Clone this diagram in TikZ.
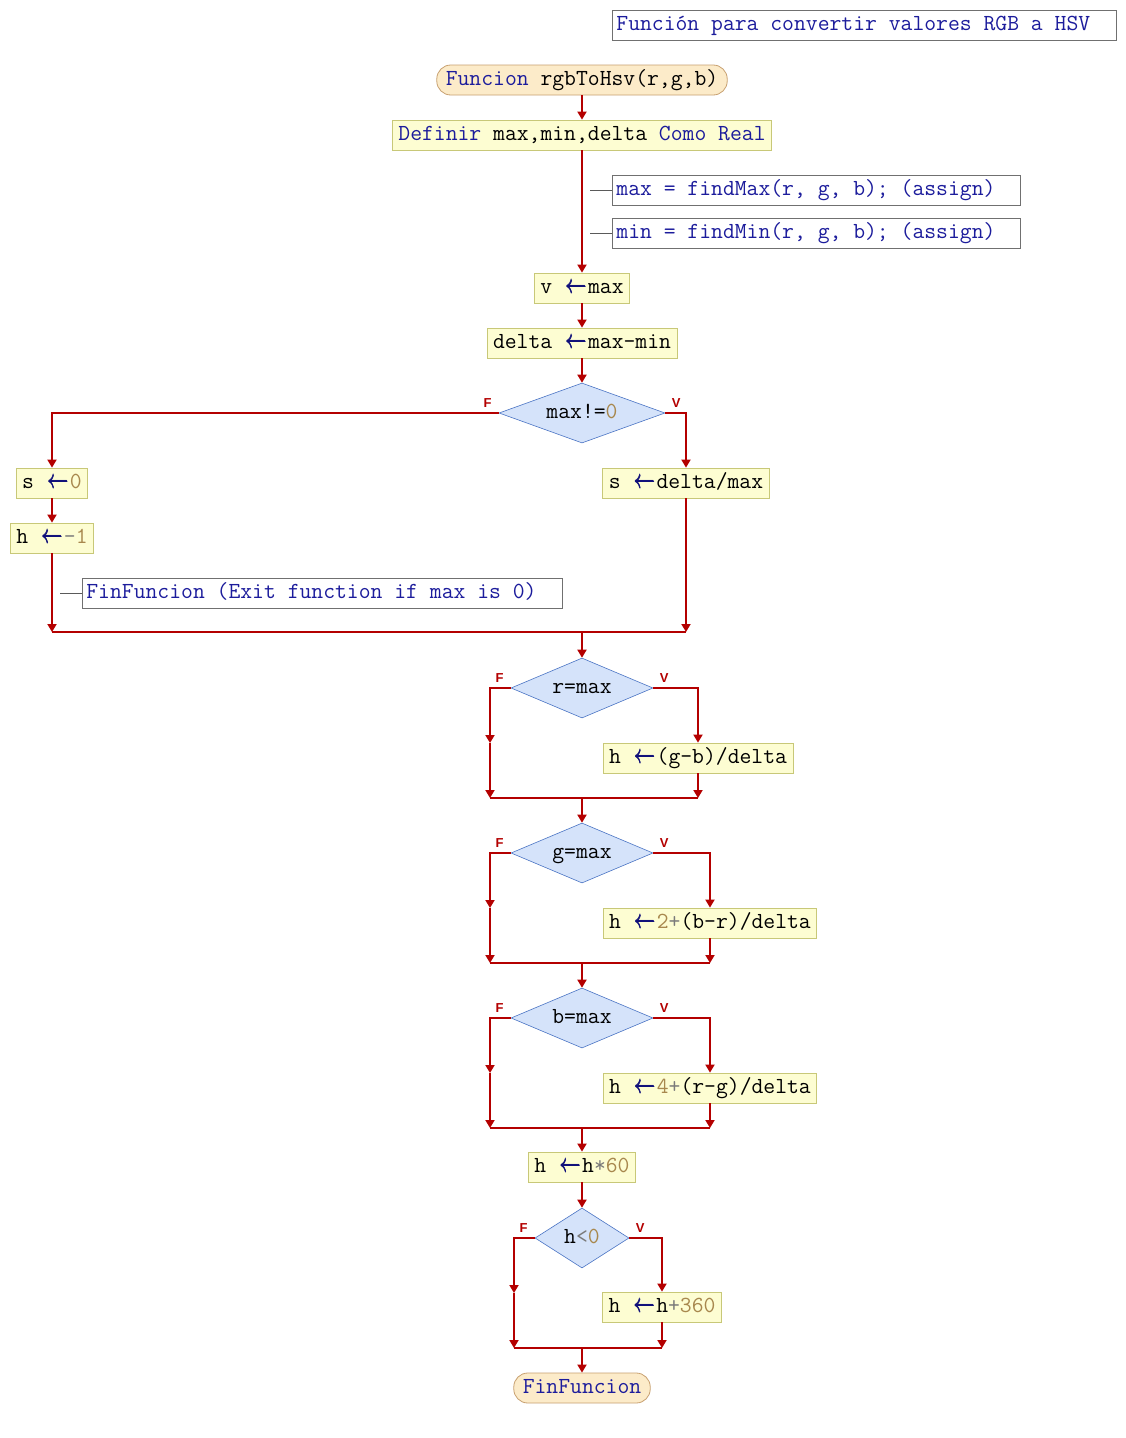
\documentclass[tikz,border=0pt]{standalone}
\usepackage{fontspec}
\usepackage{graphicx}
\newfontfamily\lblfnt{Liberation Sans}
\usetikzlibrary{shapes.geometric,arrows.meta}

\definecolor{kwblue}{HTML}{1C1C9C}
\definecolor{asgblue}{HTML}{10107A}
\definecolor{numcol}{HTML}{A8884E}
\definecolor{opcol}{HTML}{7A7A7A}
\definecolor{boxbg}{HTML}{FDFDD2}
\definecolor{boxbd}{HTML}{C8C878}
\definecolor{termbg}{HTML}{FCEBC9}
\definecolor{termbd}{HTML}{C8A070}
\definecolor{condbg}{HTML}{D5E3FA}
\definecolor{condbd}{HTML}{4A74C4}
\definecolor{flowred}{HTML}{B40000}
\definecolor{notebd}{HTML}{707070}

% monospaced code font, 12pt per character
\newcommand\code{\ttfamily\fontsize{23}{26}\selectfont}
\newcommand\kw[1]{\textcolor{kwblue}{#1}}
\newcommand\nm[1]{\textcolor{numcol}{#1}}
\newcommand\op[1]{\textcolor{opcol}{#1}}
% assignment arrow, two characters wide, struck twice for a heavier stroke
\newcommand\asgglyph{\scalebox{0.86}[1.05]{\rlap{$\leftarrow$}\raisebox{0.5pt}{\rlap{$\leftarrow$}}\kern0.5pt$\leftarrow$}}
\newcommand\asg{\textcolor{asgblue}{\makebox[24pt]{\asgglyph}}}

\begin{document}
\begin{tikzpicture}[x=1pt,y=-1pt,
  proc/.style={draw=boxbd, fill=boxbg, line width=0.8pt, minimum height=30pt,
    inner xsep=6pt, inner ysep=0pt, text height=15pt, text depth=4pt, font=\code},
  term/.style={draw=termbd, fill=termbg, line width=0.8pt, rounded corners=14pt,
    minimum height=30pt, inner xsep=9pt, inner ysep=0pt, text height=15pt,
    text depth=4pt, font=\code},
  cond/.style={diamond, draw=condbd, fill=condbg, line width=0.6pt, inner sep=0pt,
    minimum height=60pt, text height=15pt, text depth=4pt, font=\code},
  note/.style={draw=notebd, fill=white, line width=0.8pt, minimum height=30pt,
    inner xsep=4pt, inner ysep=0pt, text height=15pt, text depth=4pt,
    font=\code, text=kwblue, anchor=west},
  lbl/.style={text=flowred, font=\lblfnt\bfseries\fontsize{13}{13}\selectfont, inner sep=0pt},
  line/.style={draw=flowred, line width=1.8pt},
  flow/.style={line, -{Triangle[length=8pt,width=9pt]}},
  noteline/.style={draw=notebd!80!black, line width=1pt}
]
\fill[white] (0,0) rectangle (1126,1438);
\useasboundingbox (0,0) rectangle (1126,1438);

% header comment
\node[note] (title) at (612,25) {\makebox[496pt][l]{Función para convertir valores RGB a HSV}};

% function head and declarations
\node[term] (start) at (582,80) {\kw{Funcion} rgbToHsv(r,g,b)};
\node[proc] (def) at (582,135) {\kw{Definir} max,min,delta \kw{Como Real}};
\node[note] (c1) at (612,190) {\makebox[400pt][l]{max = findMax(r, g, b); (assign)}};
\node[note] (c2) at (612,233) {\makebox[400pt][l]{min = findMin(r, g, b); (assign)}};
\node[proc] (v) at (582,288) {v \asg max};
\node[proc] (delta) at (582,343) {delta \asg max-min};

% saturation
\node[cond, aspect=2.77, minimum width=166pt] (d1) at (582,413) {max!=\nm{0}};
\node[lbl] (d1F) at ([xshift=-11pt,yshift=10pt]d1.west) {F};
\node[lbl] (d1V) at ([xshift=11pt,yshift=10pt]d1.east) {V};
\node[proc] (s0) at (52,483) {s \asg \nm{0}};
\node[proc] (hm1) at (52,538) {h \asg \op{-}\nm{1}};
\node[note] (c3) at (82,593) {\makebox[472pt][l]{FinFuncion (Exit function if max is 0)}};
\node[proc] (sd) at (686,483) {s \asg delta/max};
\coordinate (jL1) at (52,632);
\coordinate (jR1) at (686,632);
\coordinate (jM1) at (582,632);

% hue, red channel
\node[cond, aspect=2.37, minimum width=142pt] (d2) at (582,688) {r=max};
\node[lbl] (d2F) at ([xshift=-11pt,yshift=10pt]d2.west) {F};
\node[lbl] (d2V) at ([xshift=11pt,yshift=10pt]d2.east) {V};
\node[proc] (b1) at (698,758) {h \asg (g-b)/delta};
\coordinate (fm2) at (490,743);
\coordinate (jL2) at (490,798);
\coordinate (jR2) at (698,798);
\coordinate (jM2) at (582,798);

% hue, green channel
\node[cond, aspect=2.37, minimum width=142pt] (d3) at (582,853) {g=max};
\node[lbl] (d3F) at ([xshift=-11pt,yshift=10pt]d3.west) {F};
\node[lbl] (d3V) at ([xshift=11pt,yshift=10pt]d3.east) {V};
\node[proc] (b2) at (710,923) {h \asg \nm{2}\op{+}(b-r)/delta};
\coordinate (fm3) at (490,908);
\coordinate (jL3) at (490,963);
\coordinate (jR3) at (710,963);
\coordinate (jM3) at (582,963);

% hue, blue channel
\node[cond, aspect=2.37, minimum width=142pt] (d4) at (582,1018) {b=max};
\node[lbl] (d4F) at ([xshift=-11pt,yshift=10pt]d4.west) {F};
\node[lbl] (d4V) at ([xshift=11pt,yshift=10pt]d4.east) {V};
\node[proc] (b3) at (710,1088) {h \asg \nm{4}\op{+}(r-g)/delta};
\coordinate (fm4) at (490,1073);
\coordinate (jL4) at (490,1128);
\coordinate (jR4) at (710,1128);
\coordinate (jM4) at (582,1128);

% scale to degrees
\node[proc] (h60) at (582,1167) {h \asg h\op{*}\nm{60}};
\node[cond, aspect=1.57, minimum width=94pt] (d5) at (582,1238) {h\op{<}\nm{0}};
\node[lbl] (d5F) at ([xshift=-11pt,yshift=10pt]d5.west) {F};
\node[lbl] (d5V) at ([xshift=11pt,yshift=10pt]d5.east) {V};
\node[proc] (b4) at (662,1307) {h \asg h\op{+}\nm{360}};
\coordinate (fm5) at (514,1293);
\coordinate (jL5) at (514,1348);
\coordinate (jR5) at (662,1348);
\coordinate (jM5) at (582,1348);
\node[term] (end) at (582,1388) {\kw{FinFuncion}};

% comment leaders
\draw[noteline] (c1.west) -- ++(-22,0);
\draw[noteline] (c2.west) -- ++(-22,0);
\draw[noteline] (c3.west) -- ++(-22,0);

% main flow
\draw[flow] (start) -- (def);
\draw[flow] (def) -- (v);
\draw[flow] (v) -- (delta);
\draw[flow] (delta) -- (d1);

\draw[flow] (d1.west) -| (s0.north);
\draw[flow] (d1.east) -| (sd.north);
\draw[flow] (s0) -- (hm1);
\draw[flow] (hm1) -- (jL1);
\draw[flow] (sd) -- (jR1);
\draw[line] (jL1) -- (jR1);
\draw[flow] (jM1) -- (d2);

\draw[flow] (d2.west) -| (fm2);
\draw[flow] (fm2) -- (jL2);
\draw[flow] (d2.east) -| (b1.north);
\draw[flow] (b1) -- (jR2);
\draw[line] (jL2) -- (jR2);
\draw[flow] (jM2) -- (d3);

\draw[flow] (d3.west) -| (fm3);
\draw[flow] (fm3) -- (jL3);
\draw[flow] (d3.east) -| (b2.north);
\draw[flow] (b2) -- (jR3);
\draw[line] (jL3) -- (jR3);
\draw[flow] (jM3) -- (d4);

\draw[flow] (d4.west) -| (fm4);
\draw[flow] (fm4) -- (jL4);
\draw[flow] (d4.east) -| (b3.north);
\draw[flow] (b3) -- (jR4);
\draw[line] (jL4) -- (jR4);
\draw[flow] (jM4) -- (h60);
\draw[flow] (h60) -- (d5);

\draw[flow] (d5.west) -| (fm5);
\draw[flow] (fm5) -- (jL5);
\draw[flow] (d5.east) -| (b4.north);
\draw[flow] (b4) -- (jR5);
\draw[line] (jL5) -- (jR5);
\draw[flow] (jM5) -- (end);
\end{tikzpicture}
\end{document}
